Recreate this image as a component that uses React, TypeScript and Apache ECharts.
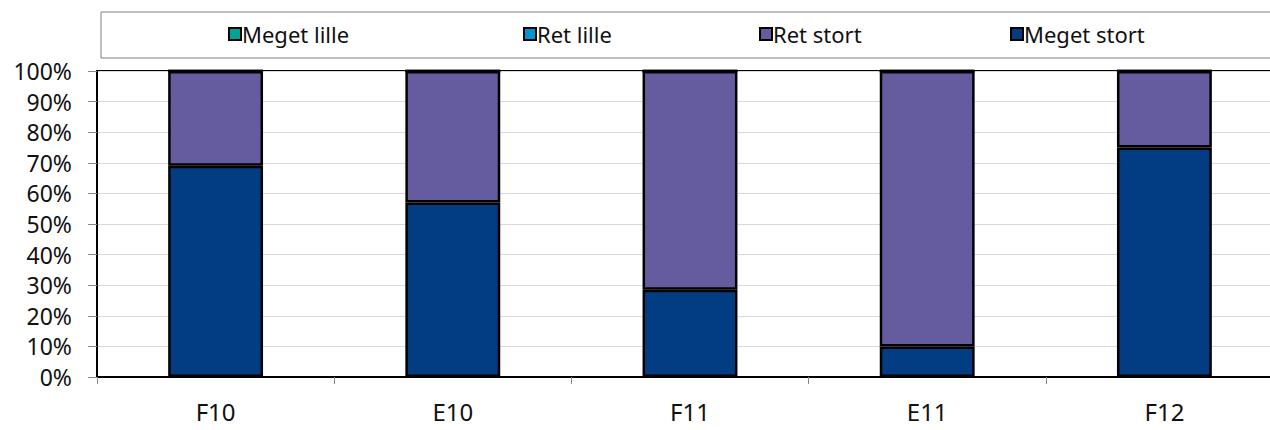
import React, { useEffect, useRef } from "react";
import * as echarts from "echarts";

const categories = ["F10", "E10", "F11", "E11", "F12"];
const megetStort = [69, 57, 28.5, 10, 75];
const retStort = [31, 43, 71.5, 90, 25];
const retLille = [0, 0, 0, 0, 0];
const megetLille = [0, 0, 0, 0, 0];
const yTicks = [0, 10, 20, 30, 40, 50, 60, 70, 80, 90, 100];

const FONT = "'Noto Sans', sans-serif";

export default function App() {
  const ref = useRef<HTMLDivElement>(null);
  useEffect(() => {
    if (!ref.current) return;
    const chart = echarts.init(ref.current, null, { renderer: "svg" });
    const barStyle = (color: string) => ({ color, borderColor: "#000", borderWidth: 2.5 });
    const legendCommon = {
      top: 23,
      itemWidth: 12,
      itemHeight: 12,
      itemGap: 0,
      icon: "rect",
      textStyle: { fontFamily: FONT, fontSize: 22, color: "#111", padding: [0, 0, 0, -4] },
      padding: 0,
    };
    chart.setOption({
      animation: false,
      graphic: [
        {
          type: "rect",
          shape: { x: 101, y: 12, width: 1200, height: 46 },
          style: { fill: "#fff", stroke: "#808080", lineWidth: 1 },
          z: -1,
        },
      ],
      legend: [
        { ...legendCommon, left: 228, data: ["Meget lille"] },
        { ...legendCommon, left: 523, data: ["Ret lille"] },
        { ...legendCommon, left: 759, data: ["Ret stort"] },
        { ...legendCommon, left: 1010, data: ["Meget stort"] },
      ],
      grid: {
        left: 97,
        width: 1186,
        top: 71,
        height: 306,
        outerBoundsMode: "none",
        show: true,
        borderColor: "#000",
        borderWidth: 2,
      },
      xAxis: {
        type: "category",
        data: categories,
        axisLine: { lineStyle: { color: "#000", width: 2 } },
        axisTick: { show: true, length: 7, lineStyle: { color: "#888", width: 1 } },
        axisLabel: { fontFamily: FONT, fontSize: 24, color: "#111", margin: 22 },
      },
      yAxis: {
        type: "value",
        min: 0,
        max: 100,
        interval: 10,
        axisLine: { show: true, lineStyle: { color: "#000", width: 2 } },
        axisTick: { show: true, length: 9, lineStyle: { color: "#888", width: 1 } },
        splitLine: { lineStyle: { color: "#d9d9d9", width: 1 } },
        axisLabel: {
          fontFamily: FONT,
          fontSize: 23,
          color: "#111",
          margin: 25,
          formatter: (v: number) => (yTicks.includes(v) ? v + "%" : ""),
        },
      },
      series: [
        { name: "Meget stort", type: "bar", stack: "a", barWidth: "40%", data: megetStort, itemStyle: barStyle("#023d84") },
        { name: "Ret stort", type: "bar", stack: "a", data: retStort, itemStyle: barStyle("#655ca0") },
        { name: "Ret lille", type: "bar", stack: "a", data: retLille, itemStyle: barStyle("#0096d6") },
        { name: "Meget lille", type: "bar", stack: "a", data: megetLille, itemStyle: barStyle("#00a396") },
      ],
    });
    return () => chart.dispose();
  }, []);
  return <div ref={ref} style={{ width: 1270, height: 430, position: "absolute", left: 0, top: 0 }} />;
}
